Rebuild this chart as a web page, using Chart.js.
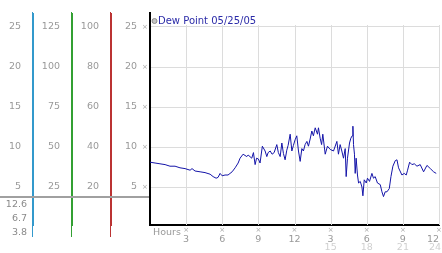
<!DOCTYPE html>
<html>
<head>
<meta charset="utf-8">
<script src="https://cdn.jsdelivr.net/npm/chart.js@4/dist/chart.umd.min.js"></script>
<style>
  html, body { margin: 0; padding: 0; background: #fff; }
  #wrap { width: 442px; height: 253px; position: relative; }
</style>
</head>
<body>
<div id="wrap"><canvas id="c"></canvas></div>
<script>
// ---- data ----
const seriesLabel = "Dew Point 05/25/05";

const hours = [
  0.00, 0.42, 0.83, 1.25, 1.66, 2.08, 2.49, 2.91, 3.33, 3.49, 3.74, 4.16, 4.57, 4.99, 5.24, 5.49,
  5.65, 5.82, 5.99, 6.23, 6.48, 6.82, 7.07, 7.32, 7.48, 7.73, 8.04, 8.15, 8.45, 8.59, 8.73, 8.85,
  9.00, 9.14, 9.33, 9.56, 9.70, 9.81, 9.98, 10.14, 10.31, 10.53, 10.66, 10.81, 10.95, 11.08, 11.22, 11.36,
  11.47, 11.64, 11.78, 11.91, 12.05, 12.19, 12.33, 12.47, 12.61, 12.74, 12.88, 13.03, 13.16, 13.30, 13.44, 13.57,
  13.72, 13.91, 13.99, 14.13, 14.25, 14.35, 14.55, 14.74, 14.96, 15.24, 15.52, 15.65, 15.79, 15.93, 16.07, 16.21,
  16.29, 16.40, 16.57, 16.68, 16.79, 16.85, 16.90, 16.98, 17.04, 17.12, 17.23, 17.32, 17.46, 17.60, 17.68, 17.79,
  17.96, 18.06, 18.23, 18.43, 18.56, 18.70, 18.89, 19.12, 19.26, 19.39, 19.53, 19.68, 19.87, 20.01, 20.17, 20.37,
  20.51, 20.64, 20.92, 21.11, 21.28, 21.39, 21.56, 21.75, 21.95, 22.17, 22.44, 22.72, 23.00, 23.28, 23.55, 23.77
];

const dewPoint = [
  8.1, 8.0, 7.9, 7.8, 7.6, 7.6, 7.4, 7.3, 7.1, 7.3, 7.0, 6.9, 6.8, 6.6, 6.3, 6.1,
  6.2, 6.7, 6.4, 6.5, 6.5, 6.9, 7.4, 8.0, 8.6, 9.1, 8.8, 9.0, 8.6, 9.3, 7.8, 8.6,
  8.5, 8.0, 10.1, 9.5, 8.8, 9.3, 9.5, 9.1, 9.3, 10.3, 9.3, 8.8, 10.5, 9.2, 8.4, 9.6,
  10.2, 11.6, 9.5, 10.2, 10.9, 11.4, 9.5, 8.2, 9.8, 9.5, 10.3, 10.7, 10.1, 11.0, 12.0, 11.4,
  12.4, 11.6, 12.4, 11.1, 10.3, 11.6, 9.1, 10.1, 9.7, 9.5, 10.7, 9.1, 10.3, 9.5, 8.6, 9.8,
  6.3, 8.6, 10.5, 11.1, 11.4, 12.6, 10.3, 9.1, 6.7, 8.6, 6.5, 5.5, 5.7, 5.0, 3.9, 5.9,
  5.5, 6.1, 5.7, 6.7, 6.1, 6.3, 5.5, 5.3, 4.4, 3.8, 4.4, 4.4, 4.8, 6.3, 7.6, 8.3,
  8.4, 7.4, 6.5, 6.7, 6.5, 7.1, 8.1, 7.8, 7.9, 7.6, 7.8, 6.9, 7.7, 7.3, 6.9, 6.7
];

// tick labels
const tempTicks = [5, 10, 15, 20, 25];
const col2Labels = ["25", "50", "75", "100", "125"];
const col3Labels = ["20", "40", "60", "80", "100"];
const hourTicks = [3, 6, 9, 12, 15, 18, 21, 24];
const hourLabels = ["3", "6", "9", "12", "3", "6", "9", "12"];
const hourSubLabels = ["", "", "", "", "15", "18", "21", "24"];
const statLabels = ["12.6", "6.7", "3.8"];

// ---- styling ----
const FONT = "'DejaVu Sans', Verdana, sans-serif";
const TICK_COLOR = "#999";
const GRID_COLOR = "#dcdcdc";
const Y_MIN = 0.25;
const Y_MAX = 26.75;

function fixedTicks(list) {
    return function (scale) {
        scale.ticks = list.map(v => ({ value: v }));
    };
}

// force box size, no auto label padding
function fitTo(w, h) {
    return function (s) {
        if (w != null) s.width = w;
        if (h != null) s.height = h;
        s.paddingLeft = 0;
        s.paddingRight = 0;
        s.paddingTop = 0;
        s.paddingBottom = 0;
    };
}

function sideAxis(weight, width, color, labels) {
    return {
        type: "linear",
        position: "left",
        weight: weight,
        min: Y_MIN,
        max: Y_MAX,
        afterBuildTicks: fixedTicks(tempTicks),
        afterFit: fitTo(width, null),
        grid: { display: false, drawTicks: false },
        border: { display: true, color: color, width: 1 },
        ticks: {
            padding: 12,
            color: TICK_COLOR,
            font: { family: FONT, size: 9.5 },
            callback: (v) => labels ? labels[tempTicks.indexOf(v)] : String(v)
        }
    };
}

// vertical hour grid starts just above the top row, like the original
const hourGrid = {
    id: "hourGrid",
    beforeDatasetsDraw(chart) {
        const ctx = chart.ctx;
        const ca = chart.chartArea;
        const xs = chart.scales.x;
        const top = chart.scales.y.getPixelForValue(25) - 2;
        ctx.save();
        ctx.strokeStyle = GRID_COLOR;
        ctx.lineWidth = 1;
        for (const v of hourTicks) {
            const x = Math.round(xs.getPixelForValue(v)) + 0.5;
            ctx.beginPath();
            ctx.moveTo(x, top);
            ctx.lineTo(x, ca.bottom);
            ctx.stroke();
        }
        ctx.restore();
    }
};

// extra text / marks around the axes
const decor = {
    id: "decor",
    afterDraw(chart) {
        const ctx = chart.ctx;
        const ca = chart.chartArea;
        const xs = chart.scales.x;
        const ys = chart.scales.y;
        ctx.save();

        // colored column lines run past the plot
        for (const [id, col] of [["yA", "#3399cc"], ["yB", "#33a033"], ["yC", "#bb3333"]]) {
            const s = chart.scales[id];
            const x = Math.round(s.right) - 0.5;
            ctx.strokeStyle = col;
            ctx.lineWidth = 1;
            ctx.beginPath();
            ctx.moveTo(x, ca.top - 1);
            ctx.lineTo(x, ca.bottom + 12);
            ctx.stroke();
        }

        // gray separator under the scale columns
        ctx.strokeStyle = "#a0a0a0";
        ctx.lineWidth = 2;
        ctx.beginPath();
        ctx.moveTo(0, ca.bottom - 28);
        ctx.lineTo(ca.left - 1, ca.bottom - 28);
        ctx.stroke();

        // max / last / min block
        ctx.fillStyle = "#8a8a8a";
        ctx.font = "9.5px " + FONT;
        ctx.textAlign = "right";
        ctx.textBaseline = "middle";
        statLabels.forEach((t, i) => ctx.fillText(t, 27, ca.bottom - 20 + i * 14));

        // little marks next to tick labels
        ctx.fillStyle = "#aaa";
        ctx.font = "7px " + FONT;
        ctx.textAlign = "center";
        for (const v of tempTicks) ctx.fillText("\u00d7", ca.left - 5, ys.getPixelForValue(v));
        for (const v of hourTicks) ctx.fillText("\u00d7", xs.getPixelForValue(v), ca.bottom + 5);

        // second row of hour labels (last one kept inside the canvas)
        ctx.fillStyle = "#d0d0d0";
        ctx.font = "9.5px " + FONT;
        hourTicks.forEach((v, i) => {
            if (!hourSubLabels[i]) return;
            const last = i === hourTicks.length - 1;
            ctx.textAlign = last ? "right" : "center";
            const x = xs.getPixelForValue(v) + (last ? 2 : 0);
            ctx.fillText(hourSubLabels[i], x, ca.bottom + 23);
        });

        // axis title
        ctx.fillStyle = TICK_COLOR;
        ctx.textAlign = "left";
        ctx.fillText("Hours", ca.left + 3, ca.bottom + 8);

        // legend
        const ds = chart.data.datasets[0];
        ctx.beginPath();
        ctx.arc(ca.left + 4.5, ca.top + 8, 2.5, 0, Math.PI * 2);
        ctx.fillStyle = "#c4c4c4";
        ctx.fill();
        ctx.strokeStyle = "#8c8c8c";
        ctx.lineWidth = 1;
        ctx.stroke();
        ctx.fillStyle = "#2b2ba8";
        ctx.font = "10px " + FONT;
        ctx.fillText(ds.label, ca.left + 8, ca.top + 8);

        ctx.restore();
    }
};

const points = hours.map((h, i) => ({ x: h, y: dewPoint[i] }));

new Chart(document.getElementById("c"), {
    type: "line",
    data: {
        datasets: [{
            label: seriesLabel,
            data: points,
            borderColor: "#1414a8",
            borderWidth: 1,
            pointRadius: 0,
            tension: 0
        }]
    },
    options: {
        responsive: true,
        maintainAspectRatio: false,
        animation: false,
        layout: { padding: { top: 13, right: 3, left: 0, bottom: 0 } },
        plugins: { legend: { display: false }, tooltip: { enabled: false } },
        scales: {
            x: {
                type: "linear",
                min: 0,
                max: 24,
                // empty tick at 0 so 'inner' alignment only pulls in the last label
                afterBuildTicks: fixedTicks([0].concat(hourTicks)),
                afterFit: fitTo(null, 28),
                grid: { display: false, drawTicks: false },
                border: { display: true, color: "#000", width: 2 },
                ticks: {
                    padding: 9,
                    align: "inner",
                    color: TICK_COLOR,
                    maxRotation: 0,
                    font: { family: FONT, size: 9.5 },
                    callback: (v) => v === 0 ? "" : hourLabels[hourTicks.indexOf(v)]
                }
            },
            y: {
                type: "linear",
                position: "left",
                weight: 0,
                min: Y_MIN,
                max: Y_MAX,
                afterBuildTicks: fixedTicks(tempTicks),
                afterFit: fitTo(39, null),
                grid: { color: GRID_COLOR, drawTicks: false },
                border: { display: true, color: "#000", width: 2 },
                ticks: {
                    padding: 13,
                    color: TICK_COLOR,
                    font: { family: FONT, size: 9.5 },
                    callback: (v) => String(v)
                }
            },
            yC: sideAxis(1, 39, "#bb3333", col3Labels),
            yB: sideAxis(2, 39, "#33a033", col2Labels),
            yA: sideAxis(3, 33, "#3399cc", null)
        }
    },
    plugins: [hourGrid, decor]
});
</script>
</body>
</html>
